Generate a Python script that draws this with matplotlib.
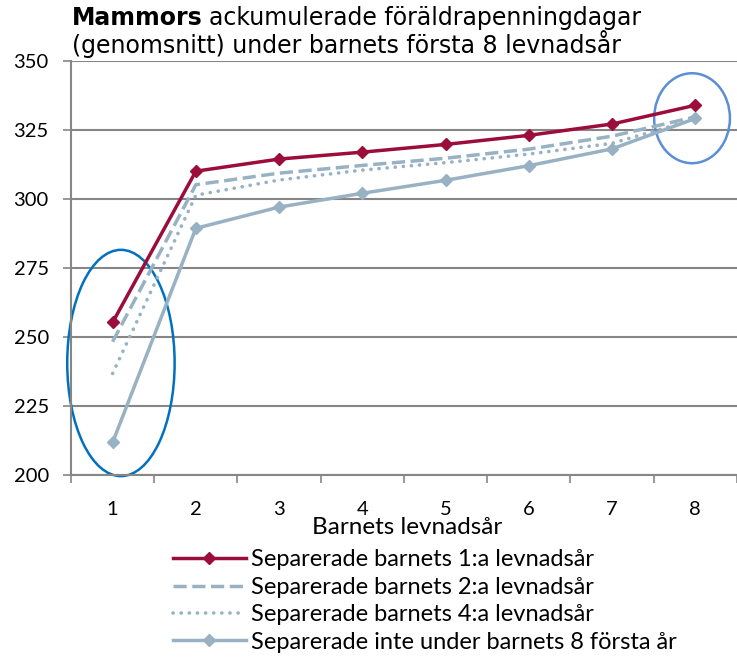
import matplotlib.pyplot as plt
from matplotlib.patches import Ellipse

years = [1, 2, 3, 4, 5, 6, 7, 8]
sep_year1 = [255.3, 310.1, 314.5, 317.0, 319.8, 323.1, 327.2, 334.0]
sep_year2 = [248.3, 305.2, 309.4, 312.2, 314.8, 318.1, 322.8, 329.8]
sep_year4 = [236.8, 301.4, 306.9, 310.5, 313.2, 316.3, 320.2, 329.0]
not_sep = [211.8, 289.4, 297.1, 302.1, 306.8, 312.1, 318.2, 329.2]

labels = [
    "Separerade barnets 1:a levnadsår",
    "Separerade barnets 2:a levnadsår",
    "Separerade barnets 4:a levnadsår",
    "Separerade inte under barnets 8 första år",
]

red = "#9B0D3A"
grey = "#98B2C4"
font = "Lato"

fig = plt.figure(figsize=(7.37, 6.57), dpi=100)
ax = fig.add_axes([0.0963, 0.277, 0.9037, 0.630])

ax.plot(years, sep_year1, color=red, lw=2.5, marker="D", ms=6, label=labels[0])
ax.plot(years, sep_year2, color=grey, lw=2.5, ls=(0, (3.8, 1.6)), label=labels[1])
ax.plot(years, sep_year4, color=grey, lw=2.6, ls=(0, (0.05, 2.2)),
        dash_capstyle="round", label=labels[2])
ax.plot(years, not_sep, color=grey, lw=2.5, marker="D", ms=6, label=labels[3])

ax.set_xlim(0.5, 8.5)
ax.set_ylim(200, 350)
ax.set_yticks(range(200, 351, 25))
ax.set_xticks(years)
ax.set_xticks([x + 0.5 for x in range(0, 9)], minor=True)
ax.tick_params(axis="x", which="major", length=0, pad=19, labelsize=14.5)
ax.tick_params(axis="x", which="minor", length=6, color="#868686", width=1.2)
ax.tick_params(axis="y", length=6, color="#868686", width=1.2, labelsize=14.5, pad=10)
for lab in ax.get_xticklabels() + ax.get_yticklabels():
    lab.set_fontfamily(font)
ax.grid(axis="y", color="#868686", lw=1.5)
ax.set_axisbelow(True)
for s in ["top", "right"]:
    ax.spines[s].set_visible(False)
for s in ["left", "bottom"]:
    ax.spines[s].set_color("#868686")
    ax.spines[s].set_linewidth(1.5)

ax.set_xlabel("Barnets levnadsår", fontsize=17.5, family=font)
ax.xaxis.set_label_coords(0.5045, -0.1425)
ax.xaxis.label.set_va("baseline")

ax.add_patch(Ellipse((1.1, 240.6), 1.29, 82, fill=False, ec="#0070C0", lw=1.8, clip_on=False))
ax.add_patch(Ellipse((7.96, 329.3), 0.91, 32.6, fill=False, ec="#5B8ED6", lw=1.8, clip_on=False))

# title: bold first word, rest regular
t1 = fig.text(0.0977, 1 - 25 / 657, "Mammors", fontsize=17, fontweight="bold", va="baseline")
fig.canvas.draw()
bb = t1.get_window_extent()
fig.text(bb.x1 / fig.bbox.width + 0.009, 1 - 25 / 657, "ackumulerade föräldrapenningdagar",
         fontsize=17, va="baseline")
fig.text(0.0977, 1 - 53 / 657, "(genomsnitt) under barnets första 8 levnadsår",
         fontsize=17, va="baseline")

leg = ax.legend(loc="upper left", bbox_to_anchor=(0.2057, 0.196), bbox_transform=fig.transFigure,
                frameon=False, handlelength=3.1, labelspacing=0.27, handletextpad=0.2,
                prop={"family": font, "size": 17})

fig.savefig("out.png", dpi=100)
